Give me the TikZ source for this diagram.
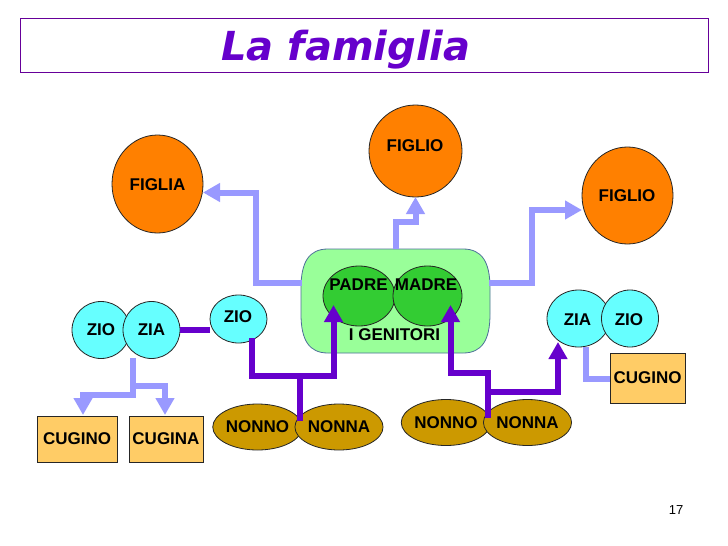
\documentclass[tikz,border=0pt]{standalone}
\usepackage{fontspec}
\setmainfont{Liberation Sans}
\newfontfamily\titlefont{DejaVu Sans}
\usetikzlibrary{shapes.geometric,arrows.meta}
\definecolor{tpurple}{HTML}{6600CC}
\definecolor{tbord}{HTML}{660099}
\definecolor{forange}{HTML}{FF8000}
\definecolor{fcyan}{HTML}{66FFFF}
\definecolor{lgreen}{HTML}{99FF99}
\definecolor{dgreen}{HTML}{33CC33}
\definecolor{gold}{HTML}{CC9900}
\definecolor{boxor}{HTML}{FFCC66}
\definecolor{lblue}{HTML}{9999FF}
\definecolor{genbord}{HTML}{4D6F99}
\begin{document}
\begin{tikzpicture}[x=1pt,y=-1pt,
  lab/.style={font=\fontsize{17}{17}\selectfont\bfseries, inner sep=0pt},
  circ/.style={ellipse, draw=black!85, line width=0.8pt, inner sep=0pt, font=\fontsize{17}{17}\selectfont\bfseries},
  kbox/.style={rectangle, draw=black!85, line width=0.8pt, fill=boxor, inner sep=0pt, font=\fontsize{17}{17}\selectfont\bfseries},
  lb/.style={draw=lblue, line width=6pt, line join=miter},
  lbarrow/.style={lb, -{Triangle[width=18pt,length=17pt]}},
  pu/.style={draw=tpurple, line width=6pt, line join=miter},
  puarrow/.style={pu, -{Triangle[width=18pt,length=17pt]}}]
\useasboundingbox (0,0) rectangle (728,546);
\fill[white] (0,0) rectangle (728,546);
% title
\node[draw=tbord, line width=1pt, minimum width=688pt, minimum height=54pt, anchor=north west] (tbox) at (20,18) {};
\node[font=\titlefont\bfseries\itshape\fontsize{40}{40}\selectfont, text=tpurple, anchor=base, inner sep=0pt] (title) at (346,60) {La famiglia};
% children
\node[circ, fill=forange, minimum width=93pt, minimum height=92pt] (figTop) at (415.5,151) {};
\node[lab] (tFigTop) at (415,146) {FIGLIO};
\node[circ, fill=forange, minimum width=91pt, minimum height=98pt] (figL) at (157.5,184) {};
\node[lab] (tFigL) at (157.5,185) {FIGLIA};
\node[circ, fill=forange, minimum width=91pt, minimum height=97pt] (figR) at (627.5,195.5) {};
\node[lab] (tFigR) at (627,196) {FIGLIO};
% parents
\draw[fill=lgreen, draw=genbord, line width=0.8pt]
  (328,249) -- (463,249) .. controls (482,249) and (490,262) .. (490,288)
  -- (490,314) .. controls (490,340) and (482,353) .. (463,353)
  -- (328,353) .. controls (309,353) and (301,340) .. (301,314)
  -- (301,288) .. controls (301,262) and (309,249) .. (328,249) -- cycle;
\node[inner sep=0pt, minimum width=189pt, minimum height=104pt] (gen) at (395.5,301) {};
\node[circ, fill=dgreen, minimum width=72pt, minimum height=60pt] (padre) at (359,296) {};
\node[circ, fill=dgreen, minimum width=69pt, minimum height=60pt] (madre) at (427.5,296) {};
\node[lab] (tPadre) at (358.5,285) {PADRE};
\node[lab] (tMadre) at (426,285) {MADRE};
\node[lab] (tGen) at (394.5,335) {I GENITORI};
% left uncles
\node[circ, fill=fcyan, minimum width=58pt, minimum height=57pt] (zioL) at (101,330) {ZIO};
\node[circ, fill=fcyan, minimum width=57pt, minimum height=57pt] (ziaL) at (151.5,330) {ZIA};
\node[circ, fill=fcyan, minimum width=57pt, minimum height=48pt] (zio2) at (238.5,319) {};
\node[lab] (tZio2) at (238,317) {ZIO};
% right uncles
\node[circ, fill=fcyan, minimum width=63pt, minimum height=57pt] (ziaR) at (578.5,318.5) {};
\node[lab] (tZiaR) at (577.5,320) {ZIA};
\node[circ, fill=fcyan, minimum width=57pt, minimum height=57pt] (zioR) at (630,318.5) {};
\node[lab] (tZioR) at (629,320) {ZIO};
% cousins
\node[kbox, minimum width=80pt, minimum height=46pt] (cugino1) at (77,439) {CUGINO};
\node[kbox, minimum width=74pt, minimum height=46pt] (cugina) at (166,439) {CUGINA};
\node[kbox, minimum width=75pt, minimum height=50pt] (cugino2) at (647.5,378) {CUGINO};
% grandparents
\node[circ, fill=gold, minimum width=85pt, minimum height=46pt] (nonnoL) at (257.5,427) {NONNO};
\node[circ, fill=gold, minimum width=86pt, minimum height=46pt] (nonnaL) at (339,427) {NONNA};
\node[circ, fill=gold, minimum width=84pt, minimum height=46pt] (nonnoR) at (446,422.5) {NONNO};
\node[circ, fill=gold, minimum width=85pt, minimum height=46pt] (nonnaR) at (527.5,422.5) {NONNA};
% coordinates
\coordinate (gTop) at (395.5,249);
\coordinate (gL) at (302,283);
\coordinate (gR) at (489,283);
\coordinate (aFigTop) at (415.5,197);
\coordinate (aFigL) at (203,192.5);
\coordinate (aFigR) at (582,210);
\coordinate (ziaLs) at (132.5,358);
\coordinate (aCug1) at (83,415);
\coordinate (aCuga) at (165,415);
\coordinate (ziaRs) at (585.5,347);
\coordinate (jL) at (300,421);
\coordinate (jR) at (487.5,418);
\coordinate (zio2s) at (252,338);
\coordinate (aPadre) at (333.5,305);
\coordinate (aMadre) at (450.5,305);
\coordinate (aZiaR) at (558,342);
% light blue arrows
\draw[lbarrow] (gTop) -- (395.5,222) -- (415.5,222) -- (aFigTop);
\draw[lbarrow] (gL) -- (255.5,283) -- (255.5,192.5) -- (aFigL);
\draw[lbarrow] (gR) -- (532,283) -- (532,210) -- (aFigR);
\draw[lbarrow] (ziaLs) -- (132.5,395) -- (83,395) -- (aCug1);
\draw[lbarrow] (132.5,385.5) -- (165,385.5) -- (aCuga);
\draw[lb] (ziaRs) -- (585.5,378.5) -- (cugino2.west |- 585.5,378.5);
% purple lines
\draw[pu] (ziaL.east) -- (zio2.west |- ziaL.east);
\draw[pu] (jL) -- (300,376);
\draw[puarrow] (zio2s) -- (252,376) -- (333.5,376) -- (aPadre);
\draw[puarrow] (jR) -- (487.5,372.5) -- (450.5,372.5) -- (aMadre);
\draw[puarrow] (487.5,392) -- (558,392) -- (aZiaR);
% page number
\node[font=\fontsize{13}{13}\selectfont, inner sep=0pt] (pnum) at (676,510) {17};
\end{tikzpicture}
\end{document}
